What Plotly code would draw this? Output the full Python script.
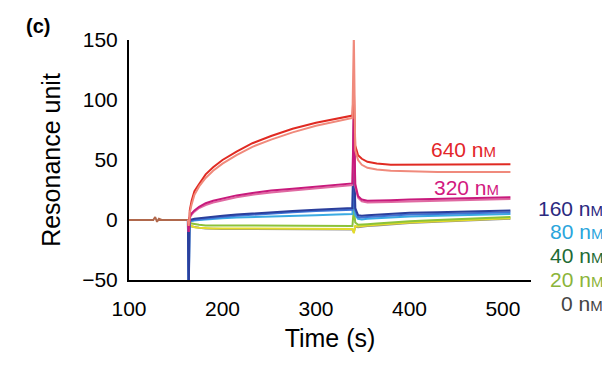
import plotly.graph_objects as go

# ---------------- data ----------------
# shared baseline before injection
t_base = [100, 126, 128, 130, 132, 135, 150, 163]
v_base = [0, 0, 2.5, -1.5, 1, 0, 0, 0]

# time points for the injection spike, association, top spike, dissociation
t_inj = [163, 163.8, 164.8]
t_assoc = [165, 167, 170, 175, 182, 190, 200, 215, 232, 252, 275, 300, 322, 339]
t_top = [340.5]
t_diss = [342, 345, 349, 355, 365, 380, 400, 430, 460, 490, 508]

# 640 nM (two replicates)
inj_640a = [0, -5, 3]
assoc_640a = [8, 16, 24, 30, 38, 44, 50, 57, 64, 70, 76, 81, 84.5, 87]
top_640a = [110]
diss_640a = [62, 54, 51, 48.5, 47, 46, 46, 46, 46.5, 46.5, 46.5]

inj_640b = [0, -5, 2]
assoc_640b = [6, 13, 21, 28, 35, 41, 47, 54, 61, 67, 73, 78.5, 82.5, 85]
top_640b = [155]
diss_640b = [58, 50, 46, 43.5, 42, 41, 40.5, 40, 40, 40, 40]

# 320 nM
inj_320a = [0, -10, 1]
assoc_320a = [3, 5.5, 8, 11, 14, 16, 18, 20.5, 22.5, 24.5, 26, 28, 29.5, 30.5]
top_320a = [95]
diss_320a = [30, 20, 17, 16, 16, 16.5, 17, 17.5, 18, 18.5, 19]

inj_320b = [0, -10, 0]
assoc_320b = [2, 4.5, 7, 10, 12.5, 14.5, 16.5, 19, 21, 23, 24.5, 26.5, 28, 29]
top_320b = [90]
diss_320b = [28, 18.5, 15.5, 14.5, 14.5, 15, 15.5, 16, 16.5, 17, 17.5]

# 160 nM
inj_160a = [0, -70, 0]
assoc_160a = [0, 0.5, 1, 1.5, 2, 2.5, 3.5, 4.5, 5.5, 6.5, 7.5, 8.5, 9.5, 10]
top_160a = [85]
diss_160a = [10, 4, 3.5, 4, 4.5, 5, 6, 6.5, 7, 7.5, 8]

inj_160b = [0, -65, -1]
assoc_160b = [-1, -0.5, 0, 0.5, 1, 1.5, 2.5, 3.5, 4.5, 5.5, 6.5, 7.5, 8, 8.5]
top_160b = [60]
diss_160b = [8, 2.5, 2, 2.5, 3, 3.5, 4.5, 5, 5.5, 6, 6.5]

# 80 nM
inj_80 = [0, -60, -1]
assoc_80 = [-1, -1, -0.5, 0, 0.5, 1, 1.5, 2, 2.5, 3, 3.5, 4, 4.5, 5]
top_80 = [30]
diss_80 = [4, 1, 0.5, 1, 1.5, 2, 3, 3.5, 4, 4.5, 5]

# 40 nM
inj_40 = [0, -20, -2]
assoc_40 = [-2, -3, -3.5, -4, -4.5, -4.5, -4.5, -4.5, -4.5, -4.5, -4.5, -4.5, -4.5, -5]
top_40 = [10]
diss_40 = [-2, -4, -4, -3.5, -3, -2, -1, 0, 1, 2, 2.5]

# 20 nM
inj_20 = [0, -12, -4]
assoc_20 = [-4, -5, -6, -6.5, -7, -7, -7, -7, -7, -7, -7, -7, -7, -7.5]
top_20 = [-11]
diss_20 = [-5, -5.5, -5, -4.5, -4, -3, -2, -1, 0, 1, 1.5]

# 0 nM
inj_0 = [0, -10, -4]
assoc_0 = [-4.5, -5.5, -6, -6.5, -7, -7.5, -7.5, -7.5, -7.5, -7.5, -7.5, -7.5, -7.5, -8]
top_0 = [-10]
diss_0 = [-5.5, -6, -5.5, -5, -4.5, -3.5, -2.5, -1.5, -0.5, 0.5, 1]

conc_labels = ["640 nM", "320 nM", "160 nM", "80 nM", "40 nM", "20 nM", "0 nM"]

# ---------------- figure ----------------
t_full = t_inj + t_assoc + t_top + t_diss

series = [
    (inj_0, assoc_0, top_0, diss_0, "#8a8a8a"),
    (inj_20, assoc_20, top_20, diss_20, "#e4dc2a"),
    (inj_40, assoc_40, top_40, diss_40, "#8cc23a"),
    (inj_80, assoc_80, top_80, diss_80, "#3aaae2"),
    (inj_160b, assoc_160b, top_160b, diss_160b, "#3f74d6"),
    (inj_160a, assoc_160a, top_160a, diss_160a, "#2b3f9c"),
    (inj_320b, assoc_320b, top_320b, diss_320b, "#e06aa2"),
    (inj_320a, assoc_320a, top_320a, diss_320a, "#c81a7c"),
    (inj_640a, assoc_640a, top_640a, diss_640a, "#e02a22"),
    (inj_640b, assoc_640b, top_640b, diss_640b, "#f08a7c"),
]

fig = go.Figure()
fig.add_trace(go.Scatter(x=t_base, y=v_base, mode="lines",
                         line=dict(color="#b0684c", width=2), showlegend=False))
for inj, a, tp, d, col in series:
    fig.add_trace(go.Scatter(x=t_full, y=inj + a + tp + d, mode="lines",
                             line=dict(color=col, width=2), showlegend=False))

FONT = "Liberation Sans, Arial, Helvetica, sans-serif"

def nm(lbl, size_m):
    num, unit = lbl.split(" ")
    return f'{num} n<span style="font-size:{size_m}px">M</span>'

label_specs = [
    (0.918, 0.542, "#e3262a"),
    (0.925, 0.3875, "#d2197f"),
    (1.184, 0.30, "#2b2a80"),
    (1.184, 0.202, "#2aa5dc"),
    (1.184, 0.104, "#1e6b35"),
    (1.184, 0.004, "#8bb43a"),
    (1.184, -0.096, "#444444"),
]
annotations = []
for lbl, (x, y, col) in zip(conc_labels, label_specs):
    annotations.append(dict(text=nm(lbl, 15), x=x, y=y, xref="paper", yref="paper",
                            xanchor="right", yanchor="middle", showarrow=False,
                            font=dict(family=FONT, size=21, color=col)))
annotations.append(dict(text="<b>(c)</b>", x=-0.226, y=1.058, xref="paper", yref="paper",
                        xanchor="center", yanchor="middle", showarrow=False,
                        font=dict(family=FONT, size=20, color="black")))

fig.update_layout(
    width=610, height=365,
    margin=dict(l=121, r=87, t=32, b=93),
    paper_bgcolor="white", plot_bgcolor="white",
    font=dict(family=FONT, color="black"),
    annotations=annotations,
    xaxis=dict(range=[100, 530], tickvals=[100, 200, 300, 400, 500],
               showgrid=False, zeroline=False, showline=True, linecolor="black",
               linewidth=2, ticks="outside", ticklen=9, tickcolor="rgba(0,0,0,0)",
               tickfont=dict(size=21, family=FONT),
               title=dict(text="Time (s)", font=dict(size=25, family=FONT), standoff=10)),
    yaxis=dict(range=[-50, 150], tickvals=[-50, 0, 50, 100, 150],
               showgrid=False, zeroline=False, showline=True, linecolor="black",
               linewidth=2, ticks="outside", ticklen=5, tickcolor="rgba(0,0,0,0)",
               tickfont=dict(size=21, family=FONT),
               title=dict(text="Resonance unit", font=dict(size=25, family=FONT), standoff=14)),
)

fig.write_html("out.html")
